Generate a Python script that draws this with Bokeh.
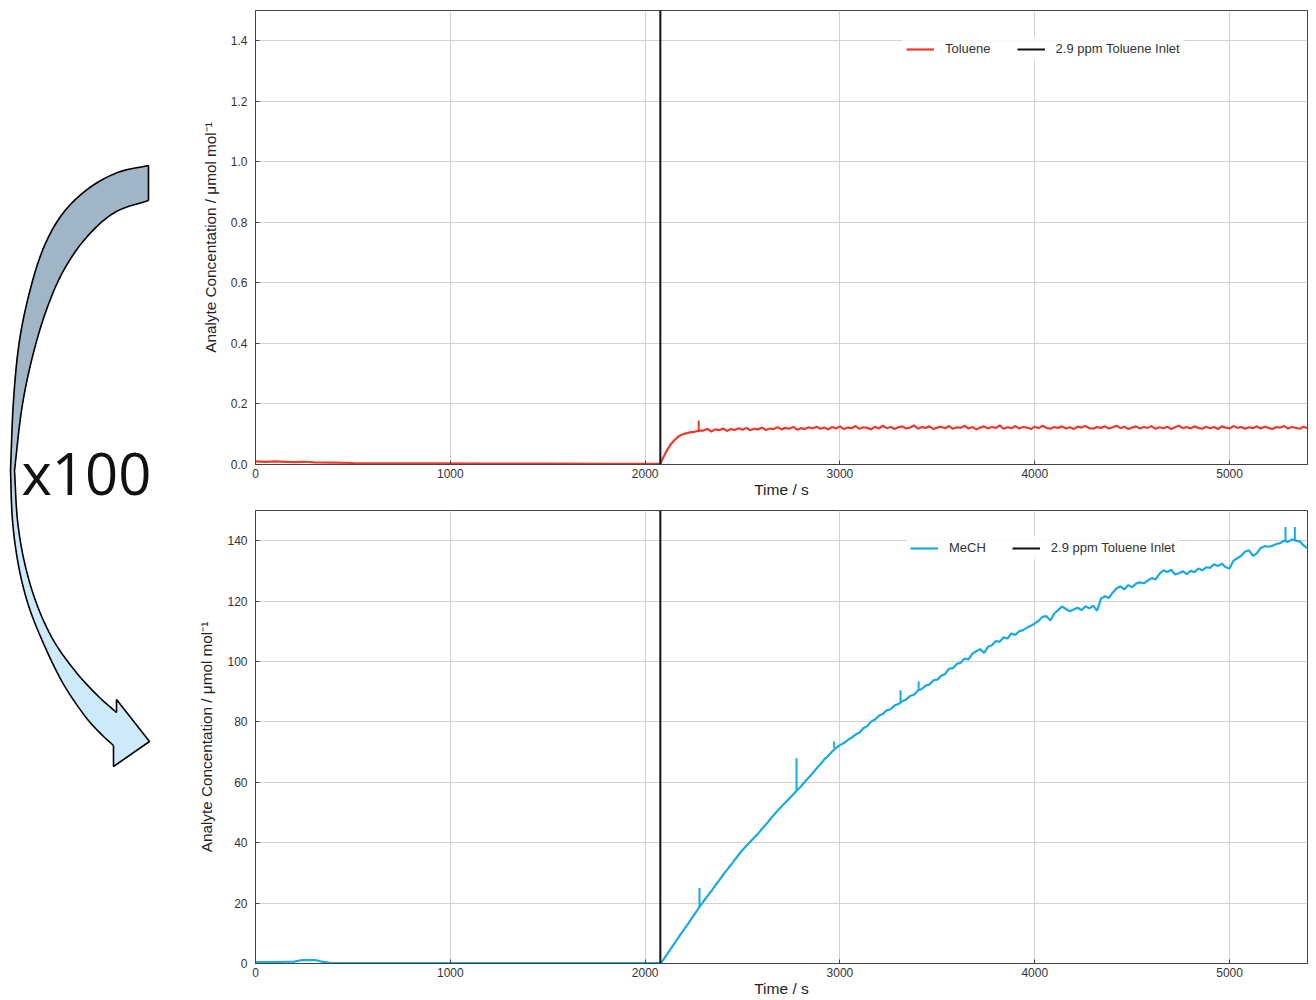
import numpy as np
from bokeh.plotting import figure
from bokeh.layouts import row, column
from bokeh.models import Range1d, FixedTicker, NumeralTickFormatter
from bokeh.embed import file_html
from bokeh.resources import INLINE
from bokeh.core.properties import value

# ---------------- data ----------------
inlet_time = 2078
inlet_label = "2.9 ppm Toluene Inlet"
x_label = "Time / s"
y_label = "Analyte Concentation / \u03bcmol mol\u207b\u00b9"
x_ticks = [0, 1000, 2000, 3000, 4000, 5000]
tol_y_ticks = [0.0, 0.2, 0.4, 0.6, 0.8, 1.0, 1.2, 1.4]
mech_y_ticks = [0, 20, 40, 60, 80, 100, 120, 140]

# Toluene (top panel)
tol_base_t = [0, 50, 100, 150, 200, 250, 300, 400, 500, 700, 900, 1200, 1500, 1800, 2000, 2078]
tol_base_v = [0.010, 0.009, 0.010, 0.009, 0.008, 0.009, 0.007, 0.006, 0.005, 0.004,
              0.004, 0.003, 0.003, 0.002, 0.002, 0.002]
tol_rise_t = [2090, 2110, 2130, 2150, 2170, 2190, 2210, 2230, 2250, 2265, 2285]
tol_rise_v = [0.020, 0.045, 0.065, 0.080, 0.092, 0.099, 0.103, 0.106, 0.108, 0.110, 0.112]
tol_plateau_start = 2300
tol_plateau_step = 20
tol_plateau_v = [
    0.112, 0.118, 0.109, 0.116, 0.113, 0.119, 0.111, 0.117, 0.114, 0.120,
    0.115, 0.121, 0.113, 0.118, 0.116, 0.122, 0.114, 0.119, 0.117, 0.123,
    0.116, 0.121, 0.118, 0.124, 0.115, 0.120, 0.117, 0.123, 0.119, 0.125,
    0.118, 0.122, 0.116, 0.124, 0.119, 0.126, 0.117, 0.122, 0.120, 0.127,
    0.118, 0.123, 0.121, 0.116, 0.125, 0.119, 0.128, 0.120, 0.124, 0.117,
    0.123, 0.126, 0.119, 0.122, 0.129, 0.118, 0.124, 0.121, 0.126, 0.117,
    0.122, 0.125, 0.120, 0.127, 0.118, 0.123, 0.121, 0.128, 0.119, 0.124,
    0.116, 0.122, 0.126, 0.119, 0.124, 0.121, 0.129, 0.118, 0.123, 0.120,
    0.127, 0.119, 0.124, 0.122, 0.117, 0.125, 0.120, 0.128, 0.121, 0.118,
    0.124, 0.121, 0.126, 0.119, 0.123, 0.117, 0.125, 0.122, 0.127, 0.120,
    0.118, 0.124, 0.121, 0.126, 0.119, 0.123, 0.128, 0.120, 0.125, 0.117,
    0.122, 0.126, 0.119, 0.124, 0.121, 0.127, 0.118, 0.123, 0.120, 0.125,
    0.117, 0.123, 0.128, 0.120, 0.124, 0.119, 0.126, 0.121, 0.118, 0.125,
    0.120, 0.124, 0.117, 0.126, 0.122, 0.119, 0.127, 0.121, 0.124, 0.118,
    0.123, 0.120, 0.126, 0.119, 0.125, 0.121, 0.117, 0.124, 0.122, 0.127,
    0.119, 0.124, 0.121, 0.118, 0.125, 0.120,
]
tol_spike_t = [2275]
tol_spike_low = [0.110]
tol_spike_high = [0.145]

# MeCH (bottom panel)
mech_base_t = [0, 100, 200, 220, 240, 300, 320, 340, 380, 450, 700, 1000, 1500, 2000, 2078]
mech_base_v = [0.5, 0.5, 0.6, 0.9, 1.1, 1.1, 1.0, 0.6, 0.2, 0.1, 0.1, 0.1, 0.1, 0.1, 0.1]
mech_start = 2080
mech_step = 20
mech_v = [
    0.0, 1.9, 3.8, 5.7, 7.6, 9.5, 11.3, 13.1, 15.0, 16.9,
    18.8, 20.6, 22.3, 24.0, 25.8, 27.5, 29.3, 31.0, 32.6, 34.3,
    36.0, 37.6, 39.0, 40.3, 41.7, 43.0, 44.6, 46.0, 47.6, 49.2,
    50.6, 52.0, 53.3, 54.6, 56.0, 57.4, 58.6, 60.2, 61.6, 63.0,
    64.6, 66.0, 67.6, 68.8, 70.2, 71.4, 72.3, 73.0, 74.0, 74.8,
    75.8, 76.4, 77.9, 78.6, 80.1, 80.8, 82.0, 82.6, 83.8, 84.2,
    85.4, 85.9, 86.8, 87.4, 88.6, 89.0, 90.4, 90.9, 92.0, 92.4,
    93.8, 94.0, 95.3, 95.9, 97.6, 97.8, 99.2, 99.6, 101.0, 100.7,
    102.6, 103.4, 104.1, 102.8, 104.9, 105.4, 106.8, 106.5, 108.0, 107.6,
    109.3, 108.8, 110.0, 110.4, 111.2, 111.8, 112.6, 113.5, 114.8, 115.0,
    113.6, 115.9, 117.0, 118.2, 117.4, 116.6, 117.2, 117.8, 117.0, 118.3,
    117.6, 118.5, 116.8, 120.8, 121.6, 121.0, 122.8, 124.2, 124.9, 123.9,
    125.3, 124.6, 125.8, 126.2, 125.9, 126.8, 127.6, 127.2, 129.0, 130.2,
    129.6, 130.4, 128.8, 129.2, 129.9, 128.9, 130.0, 129.6, 130.8, 130.2,
    131.2, 131.0, 132.2, 131.6, 132.4, 131.2, 130.8, 133.4, 134.2, 135.0,
    136.4, 136.8, 135.0, 135.8, 137.6, 138.2, 138.0, 138.3, 138.9, 139.2,
    140.0, 139.6, 140.4, 140.0, 139.8, 138.4, 137.6,
]
mech_spike_t = [2279, 2777, 2970, 3311, 3404, 5287, 5335]
mech_spike_low = [18.8, 57.4, 71.4, 86.5, 90.5, 140.0, 140.2]
mech_spike_high = [25.0, 68.0, 73.5, 90.5, 93.5, 144.5, 144.5]

# ---------------- styles ----------------
FONT = "Liberation Sans"
RED = "#ee3a2c"
BLUE = "#18a9e6"
X_MAX = 5400

tol_t = tol_base_t + tol_rise_t + [tol_plateau_start + tol_plateau_step * i for i in range(len(tol_plateau_v))]
tol_v = tol_base_v + tol_rise_v + tol_plateau_v
mech_t = mech_base_t + [mech_start + mech_step * i for i in range(len(mech_v))]
mech_vals = mech_base_v + mech_v


def make_panel(t, v, color, name, ymax, yticks, fmt, spikes, top, frame_h, bottom, lg_x):
    p = figure(width=1148, height=top + frame_h + bottom,
               x_range=Range1d(0, X_MAX), y_range=Range1d(0, ymax),
               output_backend="svg", toolbar_location=None,
               min_border_left=87, min_border_right=9,
               min_border_top=top, min_border_bottom=bottom)
    p.background_fill_color = "white"
    p.border_fill_color = "white"
    p.outline_line_color = "#444444"
    p.outline_line_width = 1
    p.grid.grid_line_color = "#d2d2d2"
    p.grid.grid_line_width = 1
    p.xaxis.ticker = FixedTicker(ticks=x_ticks)
    p.yaxis.ticker = FixedTicker(ticks=yticks)
    if fmt:
        p.yaxis.formatter = NumeralTickFormatter(format=fmt)
    for ax in (p.xaxis[0], p.yaxis[0]):
        ax.axis_line_color = "#444444"
        ax.major_tick_line_color = "#444444"
        ax.major_tick_in = 4
        ax.major_tick_out = 0
        ax.minor_tick_line_color = None
        ax.major_label_text_font = FONT
        ax.major_label_text_font_size = "12px"
        ax.major_label_text_color = "#333333"
        ax.axis_label_text_font = FONT
        ax.axis_label_text_font_style = "normal"
        ax.axis_label_text_color = "#222222"
    p.xaxis.axis_label = x_label
    p.xaxis.axis_label_text_font_size = "15.5px"
    p.xaxis.major_label_standoff = 4
    p.xaxis.axis_label_standoff = 0
    p.yaxis.axis_label = y_label
    p.yaxis.axis_label_text_font_size = "15.3px"
    p.yaxis.major_label_standoff = 8
    p.yaxis.axis_label_standoff = 9

    p.line(t, v, color=color, line_width=2.2, legend_label=name)
    st, slo, shi = spikes
    p.segment(x0=st, y0=slo, x1=st, y1=shi, color=color, line_width=2)
    p.line([inlet_time, inlet_time], [0, ymax], color="#111111", line_width=2,
           legend_label=inlet_label)

    lg = p.legend[0]
    lg.orientation = "horizontal"
    lg.location = (lg_x, frame_h - 50)
    lg.border_line_alpha = 0
    lg.background_fill_color = "white"
    lg.background_fill_alpha = 0.85
    lg.label_text_font = FONT
    lg.label_text_font_size = "13px"
    lg.label_text_color = "#333333"
    lg.glyph_width = 28
    lg.glyph_height = 14
    lg.label_standoff = 11
    lg.spacing = 26
    lg.padding = 4
    lg.margin = 0
    return p


p1 = make_panel(tol_t, tol_v, RED, "Toluene", 1.5, tol_y_ticks, "0.0",
                (tol_spike_t, tol_spike_low, tol_spike_high), 10, 454, 40, 647)
p2 = make_panel(mech_t, mech_vals, BLUE, "MeCH", 150, mech_y_ticks, None,
                (mech_spike_t, mech_spike_low, mech_spike_high), 6, 454, 35, 651)

# ---------------- decorative curved arrow ----------------
H = 999
a = figure(width=168, height=H, x_range=Range1d(0, 168), y_range=Range1d(H, 0),
           output_backend="svg", toolbar_location=None,
           min_border=0, x_axis_location=None, y_axis_location=None)
a.grid.visible = False
a.outline_line_color = None
a.background_fill_color = "white"
a.border_fill_color = "white"

outer_top = [(148, 165), (117, 172), (88, 188), (63, 212), (44, 245), (30, 288), (19, 340), (13, 400), (10, 470)]
inner_top = [(148, 200), (114, 212), (85, 238), (62, 272), (45, 312), (31, 360), (21, 410), (14, 470)]
outer_bot = [(10, 470), (12, 520), (18, 565), (28, 605), (43, 643), (62, 682), (84, 715), (100, 733), (113, 745)]
inner_bot = [(14, 470), (17, 520), (24, 562), (36, 603), (53, 640), (75, 671), (97, 695), (116, 712)]


def smooth(pts, n_per=12):
    P = np.array(pts, dtype=float)
    P = np.vstack([2 * P[0] - P[1], P, 2 * P[-1] - P[-2]])
    out = []
    for i in range(1, len(P) - 2):
        p0, p1, p2, p3 = P[i - 1], P[i], P[i + 1], P[i + 2]
        for s in np.linspace(0, 1, n_per, endpoint=False):
            out.append(0.5 * ((2 * p1) + (-p0 + p2) * s + (2 * p0 - 5 * p1 + 4 * p2 - p3) * s ** 2
                              + (-p0 + 3 * p1 - 3 * p2 + p3) * s ** 3))
    out.append(P[-2])
    return np.array(out)


def resample(pts, n):
    pts = smooth(pts)
    d = np.r_[0, np.cumsum(np.hypot(*np.diff(pts, axis=0).T))]
    s = np.linspace(0, d[-1], n)
    return np.interp(s, d, pts[:, 0]), np.interp(s, d, pts[:, 1])


N = 50
ox1, oy1 = resample(outer_top, N)
ix1, iy1 = resample(inner_top, N)
ox2, oy2 = resample(outer_bot, N)
ix2, iy2 = resample(inner_bot, N)
ox = np.r_[ox1, ox2[1:]]; oy = np.r_[oy1, oy2[1:]]
ix = np.r_[ix1, ix2[1:]]; iy = np.r_[iy1, iy2[1:]]

c_top = np.array([0xa0, 0xb6, 0xc6])
c_bot = np.array([0xcd, 0xea, 0xfb])
xs, ys, cols = [], [], []
M = len(ox)
for i in range(M - 1):
    xs.append([ox[i], ox[i + 1], ix[i + 1], ix[i]])
    ys.append([oy[i], oy[i + 1], iy[i + 1], iy[i]])
    f = min(max((i / (M - 2) - 0.40) / 0.22, 0), 1)
    c = (c_top * (1 - f) + c_bot * f).astype(int)
    cols.append("#%02x%02x%02x" % tuple(c))
a.patches(xs, ys, fill_color=cols, line_color=cols, line_width=1)

head_x = [113, 113, 149, 116, 116]
head_y = [745, 766, 741, 699, 712]
a.patch(head_x, head_y, fill_color="#cdeafb", line_color="#cdeafb", line_width=1)

a.line(list(ox), list(oy), color="black", line_width=1.6)
a.line(list(ix), list(iy), color="black", line_width=1.6)
a.line([148, 148], [165, 200], color="black", line_width=1.6)
a.line(head_x, head_y, color="black", line_width=1.6)

a.text(x=[21], y=[472], text=["x100"], text_font=value("Open Sans"),
       text_font_size="58px", text_baseline="middle", text_align="left",
       text_color="#111111")

layout = row(a, column(p1, p2))
open("out.html", "w").write(file_html(layout, INLINE))
